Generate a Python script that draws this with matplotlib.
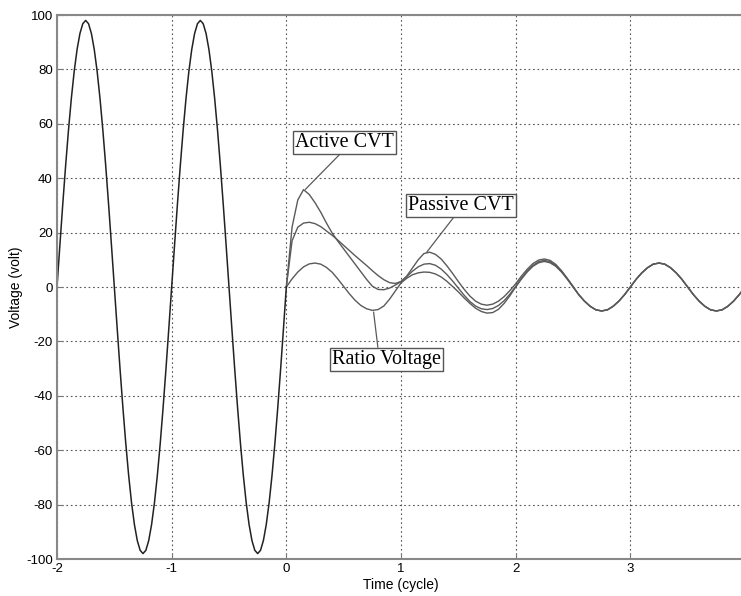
import matplotlib
matplotlib.use("Agg")
import matplotlib.pyplot as plt
import numpy as np

plt.rcParams['axes.unicode_minus'] = False

# pre-fault voltage (all three curves coincide), sampled every 1/40 cycle from -2 to 0
pre_fault = [0, 15.3, 30.3, 44.5, 57.6, 69.3, 79.3, 87.3, 93.2, 96.8,
             98, 96.8, 93.2, 87.3, 79.3, 69.3, 57.6, 44.5, 30.3, 15.3,
             0, -15.3, -30.3, -44.5, -57.6, -69.3, -79.3, -87.3, -93.2, -96.8,
             -98, -96.8, -93.2, -87.3, -79.3, -69.3, -57.6, -44.5, -30.3, -15.3,
             0, 15.3, 30.3, 44.5, 57.6, 69.3, 79.3, 87.3, 93.2, 96.8,
             98, 96.8, 93.2, 87.3, 79.3, 69.3, 57.6, 44.5, 30.3, 15.3,
             0, -15.3, -30.3, -44.5, -57.6, -69.3, -79.3, -87.3, -93.2, -96.8,
             -98, -96.8, -93.2, -87.3, -79.3, -69.3, -57.6, -44.5, -30.3, -15.3,
             0]

# post-fault, sampled every 0.05 cycle from 0 to 4
tail = [-2.8, -5.2, -7.1, -8.4, -8.8, -8.4, -7.1, -5.2, -2.8,
        0, 2.8, 5.2, 7.1, 8.4, 8.8, 8.4, 7.1, 5.2, 2.8,
        0, -2.8, -5.2, -7.1, -8.4, -8.8, -8.4, -7.1, -5.2, -2.8, 0]

ratio_v = [0, 3.0, 5.5, 7.4, 8.5, 8.8, 8.4, 7.2, 5.4, 2.9,
           0.2, -2.5, -4.9, -6.8, -8.0, -8.6, -8.3, -7.0, -4.5, -1.5,
           1.5, 3.2, 4.5, 5.2, 5.5, 5.4, 4.8, 3.7, 2.1, 0.2,
           -1.8, -4.0, -6.0, -7.8, -9.0, -9.6, -9.4, -8.2, -6.0, -3.2,
           0, 2.9, 5.5, 7.6, 8.9, 9.4, 8.9, 7.6, 5.5, 2.9,
           0] + tail

active_v = [0, 22, 32, 35.8, 34, 31, 27.5, 23.5, 19.8, 16.8,
            14, 11.2, 8.4, 5.6, 2.8, 0.3, -0.9, -1.0, -0.4, 0.7,
            2.0, 3.8, 5.8, 7.4, 8.4, 8.6, 8.0, 6.6, 4.6, 2.2,
            -0.4, -3.0, -5.3, -7.0, -8.0, -8.3, -7.9, -6.8, -5.0, -2.6,
            0.2, 3.2, 5.8, 7.9, 9.3, 9.8, 9.3, 7.9, 5.7, 3.0,
            0.1] + tail

passive_v = [0, 17, 22, 23.5, 23.8, 23.3, 22.2, 20.6, 19.0, 17.2,
             15.3, 13.4, 11.5, 9.7, 7.9, 6.0, 4.2, 2.7, 1.6, 1.3,
             2.0, 4.0, 7.0, 10.0, 12.3, 12.8, 12.0, 10.3, 7.8, 5.0,
             2.0, -0.8, -3.3, -5.2, -6.3, -6.7, -6.3, -5.2, -3.5, -1.3,
             1.2, 4.0, 6.5, 8.6, 9.9, 10.3, 9.8, 8.3, 6.0, 3.2,
             0.3] + tail

t_pre = np.linspace(-2, 0, len(pre_fault))
t_post = np.linspace(0, 4, len(ratio_v))

fig = plt.figure(figsize=(7.41, 5.96), dpi=100)
ax = fig.add_axes([57 / 741, 37 / 596, 688 / 741, 544 / 596])

for series in (ratio_v, active_v, passive_v):
    ax.plot(t_post, series, color='#5a5a5a', lw=1.0)
ax.plot(t_pre, pre_fault, color='#222222', lw=1.1)

ax.set_xlim(-2, 4)
ax.set_ylim(-100, 100)
ax.set_xticks(range(-2, 5))
ax.set_yticks(range(-100, 101, 20))
ax.grid(True, color='#555555', linestyle=(0, (1.5, 2.5)), lw=0.8)
ax.tick_params(direction='in', length=4, color='#777777', labelsize=9.5, pad=3)
for lab in ax.get_xticklabels() + ax.get_yticklabels():
    lab.set_family('Liberation Sans')
for sp in ax.spines.values():
    sp.set_color('#888888')
    sp.set_linewidth(1.5)

ax.set_xlabel('Time (cycle)', family='Liberation Sans', fontsize=10, labelpad=2)
ax.set_ylabel('Voltage (volt)', family='Liberation Sans', fontsize=10, labelpad=2)

box = dict(boxstyle='square,pad=0.1', fc='white', ec='#555555', lw=1.0)
labels = [('Active CVT', (0.166, 35.9), (0.505, 53.2), (0.48, 0)),
          ('Passive CVT', (1.226, 12.9), (1.52, 29.9), (0.45, 0)),
          ('Ratio Voltage', (0.761, -9.2), (0.877, -26.6), (0.42, 1))]
for txt, xy, xyt, rp in labels:
    ax.annotate(txt, xy=xy, xytext=xyt, ha='center', va='center',
                family='Liberation Serif', fontsize=14.5, bbox=box,
                arrowprops=dict(arrowstyle='-', color='#5a5a5a', lw=0.9,
                                relpos=rp, shrinkA=0, shrinkB=0))

fig.savefig('out.png', dpi=100)
